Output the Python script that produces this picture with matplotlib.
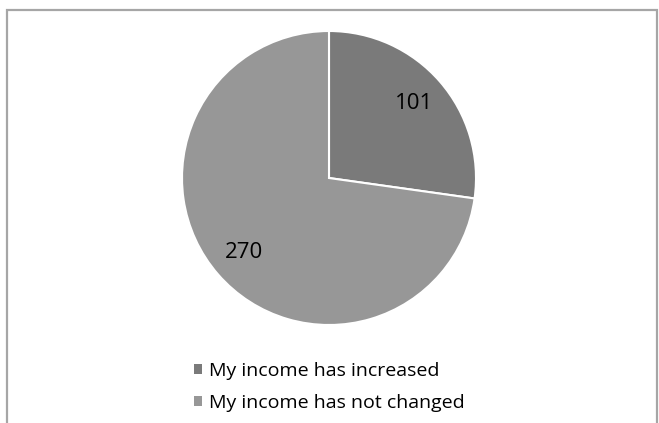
import matplotlib.pyplot as plt
from matplotlib.patches import Rectangle

labels = ["My income has increased", "My income has not changed"]
counts = [101, 270]
colors = ["#7a7a7a", "#979797"]

plt.rcParams['font.family'] = ['Open Sans', 'DejaVu Sans']

fig = plt.figure(figsize=(6.59, 4.23), dpi=100)
ax = fig.add_axes([0, 0, 1, 1])
ax.set_xlim(0, 659)
ax.set_ylim(423, 0)
ax.axis('off')

# chart frame
fig.patches.append(Rectangle((7 / 659, -0.1), 650 / 659, 1.1 - 10 / 423,
                             transform=fig.transFigure, fill=False,
                             edgecolor="#a6a6a6", linewidth=1.6))

pie_ax = fig.add_axes([(329 - 147) / 659, 1 - (178 + 147) / 423, 294 / 659, 294 / 423])
wedges, _, autotexts = pie_ax.pie(counts, colors=colors, startangle=90, counterclock=False,
                                  autopct=lambda p: f"{round(p * sum(counts) / 100)}",
                                  pctdistance=0.77,
                                  wedgeprops=dict(edgecolor="white", linewidth=1.5))
for t in autotexts:
    t.set_fontsize(16)
    t.set_color("black")
pie_ax.set_xlim(-1, 1)
pie_ax.set_ylim(-1, 1)
pie_ax.set_aspect('equal')

leg = fig.legend(wedges, labels, loc="upper left", bbox_to_anchor=(184 / 659, 1 - 352 / 423),
                 frameon=False, fontsize=14, handlelength=0.45, handleheight=0.45,
                 handletextpad=0.35, labelspacing=0.72, borderpad=0)
for h in leg.legend_handles:
    h.set_edgecolor("none")

fig.savefig("out.png", dpi=100)
